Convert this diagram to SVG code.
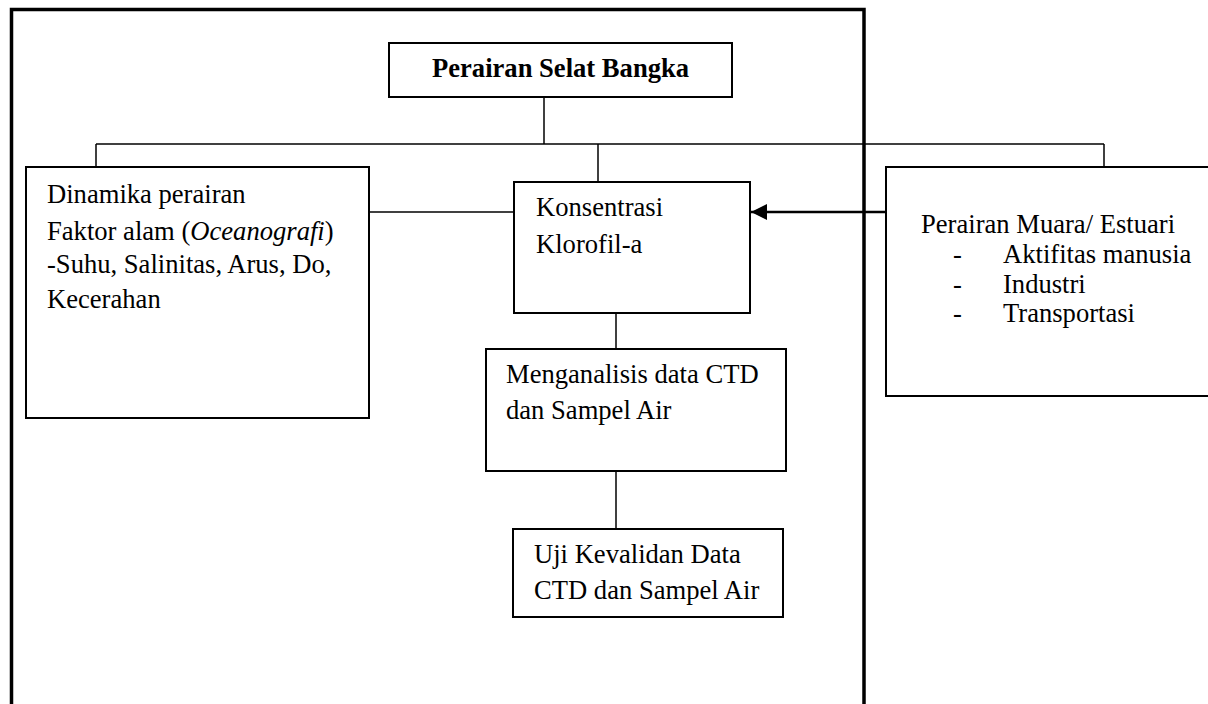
<svg xmlns="http://www.w3.org/2000/svg" width="1208" height="704" viewBox="0 0 1208 704">
  <defs>
    <style>
      .box { fill: #ffffff; stroke: #000000; stroke-width: 2; }
      .ln { stroke: #000000; stroke-width: 1.5; fill: none; }
      .t { font-family: 'Liberation Serif', 'DejaVu Serif', serif; font-size: 26.6px; fill: #000000; }
      .b { font-weight: bold; }
    </style>
    <marker id="arr" markerWidth="16" markerHeight="16" refX="10" refY="5" orient="auto" markerUnits="userSpaceOnUse" viewBox="0 0 10 10">
      <path d="M0,0 L10,5 L0,10 Z" fill="#000000"/>
    </marker>
  </defs>
  <rect width="1208" height="704" fill="#ffffff"/>

  <g id="frame">
    <polyline points="11.5,720 11.5,9.5 864,9.5 864,720" fill="none" stroke="#000000" stroke-width="3.5"/>
  </g>

  <g id="connectors">
    <line class="ln" x1="544" y1="97" x2="544" y2="144"/>
    <line class="ln" x1="96" y1="144" x2="1104" y2="144"/>
    <line class="ln" x1="96" y1="144" x2="96" y2="167"/>
    <line class="ln" x1="598" y1="144" x2="598" y2="182"/>
    <line class="ln" x1="1104" y1="144" x2="1104" y2="167"/>
    <line class="ln" x1="369" y1="212" x2="514" y2="212"/>
    <line class="ln" x1="616" y1="313" x2="616" y2="349"/>
    <line class="ln" x1="616" y1="471" x2="616" y2="529"/>
    <line x1="886" y1="212" x2="751" y2="212" stroke="#000000" stroke-width="2.5" marker-end="url(#arr)"/>
  </g>

  <g id="node-title">
    <rect class="box" x="389" y="43" width="343" height="54"/>
    <text class="t b" x="432" y="77">Perairan Selat Bangka</text>
  </g>

  <g id="node-dinamika">
    <rect class="box" x="26" y="167" width="343" height="251"/>
    <text class="t" x="47" y="203">Dinamika perairan</text>
    <text class="t" x="47" y="240">Faktor alam (<tspan font-style="italic">Oceanografi</tspan>)</text>
    <text class="t" x="47" y="273">-Suhu, Salinitas, Arus, Do,</text>
    <text class="t" x="47" y="308">Kecerahan</text>
  </g>

  <g id="node-konsentrasi">
    <rect class="box" x="514" y="182" width="236" height="131"/>
    <text class="t" x="536" y="216">Konsentrasi</text>
    <text class="t" x="536" y="253">Klorofil-a</text>
  </g>

  <g id="node-muara">
    <rect class="box" x="886" y="167" width="340" height="229"/>
    <text class="t" x="921" y="233">Perairan Muara/ Estuari</text>
    <text class="t" x="953" y="263">-</text>
    <text class="t" x="1003" y="263">Aktifitas manusia</text>
    <text class="t" x="953" y="293">-</text>
    <text class="t" x="1003" y="293">Industri</text>
    <text class="t" x="953" y="322">-</text>
    <text class="t" x="1003" y="322">Transportasi</text>
  </g>

  <g id="node-menganalisis">
    <rect class="box" x="486" y="349" width="300" height="122"/>
    <text class="t" x="506" y="383">Menganalisis data CTD</text>
    <text class="t" x="506" y="419">dan Sampel Air</text>
  </g>

  <g id="node-uji">
    <rect class="box" x="513" y="529" width="270" height="88"/>
    <text class="t" x="534" y="563">Uji Kevalidan Data</text>
    <text class="t" x="534" y="599">CTD dan Sampel Air</text>
  </g>
</svg>
